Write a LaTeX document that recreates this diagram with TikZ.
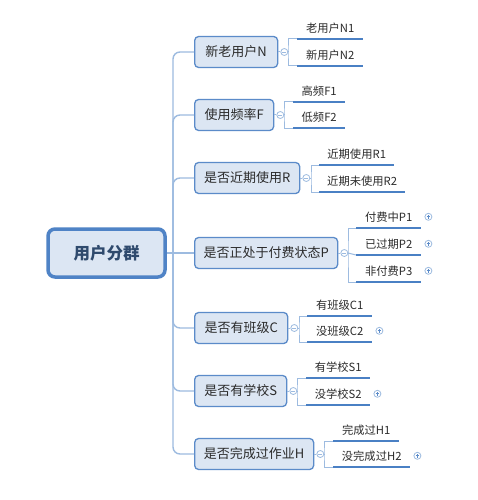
\documentclass[tikz,border=0pt]{standalone}
\usepackage{fontspec}
\setmainfont{Noto Sans CJK SC}
\begin{document}
\begin{tikzpicture}[x=1pt,y=-1pt,
  rootbox/.style={draw=rootb, line width=3.5pt, fill=boxf, rounded corners=7pt, minimum width=117pt, minimum height=48pt, inner sep=0pt, font=\fontsize{16.5}{18}\selectfont\bfseries, text=roottxt},
  branch/.style={draw=boxb, line width=1.3pt, fill=boxf, rounded corners=4pt, minimum height=31pt, inner sep=0pt, anchor=west, font=\fontsize{13}{15}\selectfont, text=txtc},
  leaf/.style={anchor=south west, minimum height=22pt, inner sep=0pt, font=\fontsize{11.3}{13}\selectfont, text=txtc},
  uline/.style={draw=ulc, line width=2.3pt},
  conn/.style={draw=linec, line width=1pt},
  spine/.style={draw=linec, line width=1.4pt, rounded corners=7pt},
  collapse/.style={circle, draw=linec, line width=0.8pt, fill=white, minimum size=7pt, inner sep=0pt,
    path picture={\draw[linec, line width=0.7pt] ([xshift=1.6pt]path picture bounding box.west) -- ([xshift=-1.6pt]path picture bounding box.east);}},
  expand/.style={circle, draw=linec, line width=0.8pt, fill=white, minimum size=7pt, inner sep=0pt,
    path picture={\draw[boxb, line width=0.7pt] ([xshift=1.6pt]path picture bounding box.west) -- ([xshift=-1.6pt]path picture bounding box.east)
      ([yshift=-1.6pt]path picture bounding box.north) -- ([yshift=1.6pt]path picture bounding box.south);}}
]
\definecolor{boxf}{HTML}{DCE6F3}
\definecolor{boxb}{HTML}{5B8BC9}
\definecolor{rootb}{HTML}{4F83C6}
\definecolor{roottxt}{HTML}{2F4A6D}
\definecolor{ulc}{HTML}{4A80C4}
\definecolor{linec}{HTML}{9DBBE0}
\definecolor{txtc}{HTML}{2B2B2B}
\useasboundingbox[fill=white] (0,0) rectangle (477,500);

% root
\node[rootbox] (root) at (106.5,253) {用户分群};
\coordinate (sp) at (173,253);

% branches
\node[branch, minimum width=83pt] (N) at (194,52) {新老用户N};
\node[branch, minimum width=79pt] (F) at (194,115) {使用频率F};
\node[branch, minimum width=105pt] (R) at (194,178) {是否近期使用R};
\node[branch, minimum width=143pt] (P) at (194,253) {是否正处于付费状态P};
\node[branch, minimum width=93pt] (C) at (194,328) {是否有班级C};
\node[branch, minimum width=92pt] (S) at (194,391) {是否有学校S};
\node[branch, minimum width=119pt] (H) at (194,454) {是否完成过作业H};

% spine
\draw[conn, line width=1.4pt] (root.east) -- (P.west);
\foreach \b in {N,F,R,C,S,H} {
  \draw[spine] (sp) |- (\b.west);
}

% collapse circles
\foreach \b in {N,F,R,P,C,S,H} {
  \node[collapse] (c\b) at ([xshift=6pt]\b.east) {};
  \draw[conn] (\b.east) -- (c\b.west);
}

% leaves
\node[leaf, minimum width=66pt] (N1) at (297,39) {老用户N1};
\node[leaf, minimum width=66pt] (N2) at (297,66) {新用户N2};
\node[leaf, minimum width=52pt] (F1) at (293,102) {高频F1};
\node[leaf, minimum width=52pt] (F2) at (293,128) {低频F2};
\node[leaf, minimum width=75pt] (R1) at (319,165) {近期使用R1};
\node[leaf, minimum width=86pt] (R2) at (319,192) {近期未使用R2};
\node[leaf, minimum width=65pt] (P1) at (356,228) {付费中P1};
\node[leaf, minimum width=65pt] (P2) at (356,255) {已过期P2};
\node[leaf, minimum width=65pt] (P3) at (356,282) {非付费P3};
\node[leaf, minimum width=65pt] (C1) at (307,316) {有班级C1};
\node[leaf, minimum width=65pt] (C2) at (307,342) {没班级C2};
\node[leaf, minimum width=64pt] (S1) at (306,378) {有学校S1};
\node[leaf, minimum width=64pt] (S2) at (306,405) {没学校S2};
\node[leaf, minimum width=66pt] (H1) at (333,441) {完成过H1};
\node[leaf, minimum width=77pt] (H2) at (333,467) {没完成过H2};

% brackets
\coordinate (bN) at (288,52);
\coordinate (bF) at (284,115);
\coordinate (bR) at (311,178);
\coordinate (bP) at (348,253);
\coordinate (bC) at (299,328);
\coordinate (bS) at (297,391);
\coordinate (bH) at (324,454);
\foreach \b/\t/\u in {N/N1/N2,F/F1/F2,R/R1/R2,P/P1/P3,C/C1/C2,S/S1/S2,H/H1/H2} {
  \draw[conn] (c\b.east) -- (b\b);
  \draw[conn] (\t.south west) -| (b\b) |- (\u.south west);
}
\draw[conn] (bP) -- (P2.south west);

% underlines
\foreach \l in {N1,N2,F1,F2,R1,R2,P1,P2,P3,C1,C2,S1,S2,H1,H2} {
  \draw[uline] (\l.south west) -- (\l.south east);
}

% expand markers
\foreach \l in {P1,P2,P3,C2,S2,H2} {
  \node[expand] (e\l) at ([xshift=7pt]\l.east) {};
}
\end{tikzpicture}
\end{document}
